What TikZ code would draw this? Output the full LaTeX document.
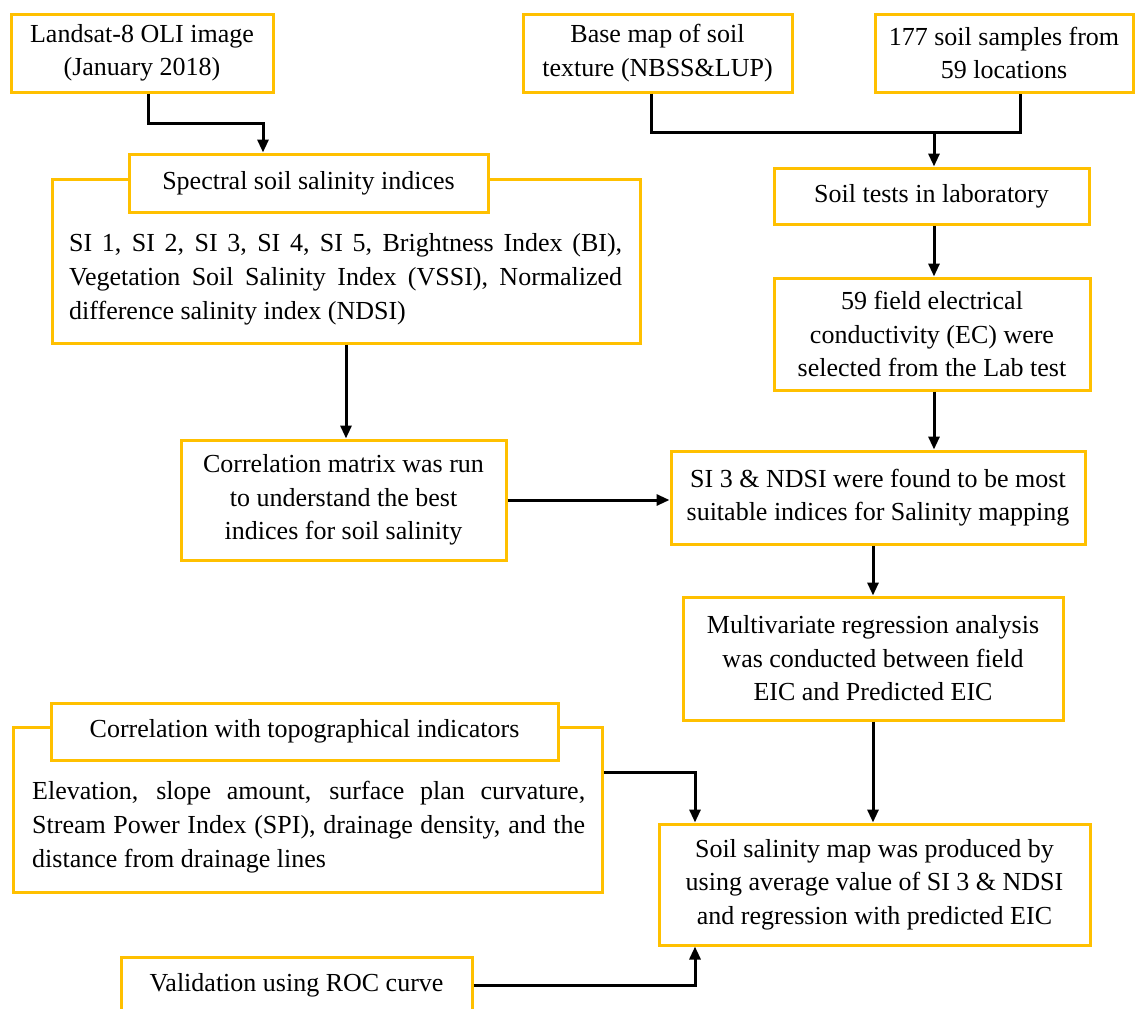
\documentclass[tikz,border=0pt]{standalone}
\usepackage{fontspec}
\setmainfont{Liberation Serif}
\usetikzlibrary{arrows.meta}
\definecolor{gold}{HTML}{FFC000}
\begin{document}
\begin{tikzpicture}[x=1pt,y=-1pt,
  box/.style={draw=gold, line width=3pt, fill=white, align=center, inner sep=0pt,
              font=\fontsize{26}{33.5}\selectfont},
  bodytxt/.style={align=left, inner sep=0pt, anchor=west,
              font=\fontsize{26}{34}\selectfont},
  arr/.style={line width=3pt, -{Triangle[length=13pt,width=11pt]}},
  ln/.style={line width=3pt}]
\useasboundingbox[fill=white] (0,0) rectangle (1136,1009);

% top row
\node[box, minimum width=262pt, minimum height=78pt] (land) at (142,53)
  {\raisebox{-3pt}{Landsat-8 OLI image}\\\raisebox{-3pt}{(January 2018)}};
\node[box, minimum width=269pt, minimum height=78pt] (base) at (657.5,53)
  {Base map of soil\\texture (NBSS\&LUP)};
\node[box, minimum width=258pt, minimum height=78pt] (samp) at (1004,53)
  {177 soil samples from\\59 locations};

% spectral group
\node[box, minimum width=588pt, minimum height=164pt] (specO) at (346,261) {};
\node[box, minimum width=359pt, minimum height=58pt] (specH) at (308.5,183)
  {Spectral soil salinity indices};
\node[bodytxt] (specT) at (69,279)
  {\makebox[553pt][s]{SI 1, SI 2, SI 3, SI 4, SI 5, Brightness Index (BI),}\\
   \makebox[553pt][s]{Vegetation Soil Salinity Index (VSSI), Normalized}\\
   difference salinity index (NDSI)};

% right column
\node[box, minimum width=315pt, minimum height=56pt] (tests) at (931.5,196)
  {Soil tests in laboratory};
\node[box, minimum width=316pt, minimum height=112pt] (field) at (932,334)
  {59 field electrical\\conductivity (EC) were\\selected from the Lab test};
\node[box, minimum width=325pt, minimum height=120pt] (corr) at (343.5,500)
  {Correlation matrix was run\\to understand the best\\indices for soil salinity};
\node[box, minimum width=414pt, minimum height=93pt] (si3) at (878,497.5)
  {SI 3 \& NDSI were found to be most\\suitable indices for Salinity mapping};
\node[box, minimum width=380pt, minimum height=123pt] (multi) at (873,658.5)
  {Multivariate regression analysis\\was conducted between field\\EIC and Predicted EIC};

% topographic group
\node[box, minimum width=589pt, minimum height=165pt] (topoO) at (307.5,809.5) {};
\node[box, minimum width=507pt, minimum height=57pt] (topoH) at (304.5,731.5)
  {Correlation with topographical indicators};
\node[bodytxt] (topoT) at (32,827.5)
  {\makebox[553pt][s]{Elevation, slope amount, surface plan curvature,}\\
   \makebox[553pt][s]{Stream Power Index (SPI), drainage density, and the}\\
   distance from drainage lines};

\node[box, minimum width=431pt, minimum height=121pt] (map) at (874.5,884.5)
  {Soil salinity map was produced by\\using average value of SI 3 \& NDSI\\and regression with predicted EIC};
\node[box, minimum width=351pt, minimum height=56pt] (roc) at (296.5,985)
  {Validation using ROC curve};

% connectors
\coordinate (j1) at (148,123);
\coordinate (j2) at (263,123);
\draw[arr] (land.south -| j1) -- (j1) -- (j2) -- (j2 |- specH.north);

\coordinate (b1) at (651,132);
\coordinate (b2) at (1020,132);
\coordinate (b3) at (934,132);
\draw[ln] (base.south -| b1) -- (b1) -- (b2) -- (samp.south -| b2);
\draw[arr] (b3) -- (b3 |- tests.north);
\draw[arr] (tests.south -| b3) -- (field.north -| b3);
\draw[arr] (field.south -| b3) -- (si3.north -| b3);

\draw[arr] (specO.south) -- (specO.south |- corr.north);
\draw[arr] (corr.east) -- (corr.east -| si3.west);
\draw[arr] (si3.south -| multi.north) -- (multi.north);
\draw[arr] (multi.south) -- (multi.south |- map.north);

\coordinate (t1) at (695,772);
\draw[arr] (topoO.east |- t1) -- (t1) -- (t1 |- map.north);
\draw[arr] (roc.east) -- (roc.east -| t1) -- (t1 |- map.south);
\end{tikzpicture}
\end{document}
